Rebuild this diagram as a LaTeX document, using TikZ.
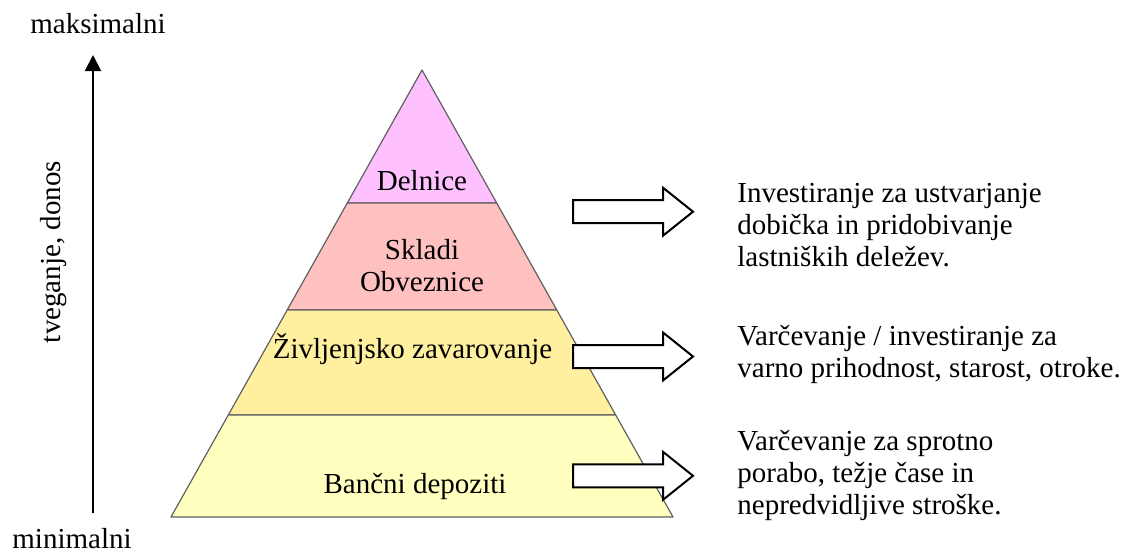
\documentclass[tikz,border=0pt]{standalone}
\usepackage{fontspec}
\setmainfont{Liberation Serif}
\usetikzlibrary{arrows.meta}

\definecolor{delnicefill}{HTML}{FFC0FF}
\definecolor{skladifill}{HTML}{FFC0C0}
\definecolor{zavarfill}{HTML}{FFF0A0}
\definecolor{depofill}{HTML}{FFFFC0}

\begin{document}
\begin{tikzpicture}[x=0.5pt,y=-0.5pt,
    band/.style={draw=gray!75!black, line width=0.6pt, line join=round},
    label/.style={inner sep=0pt, font=\fontsize{14.5}{16}\selectfont},
    blockarrow/.style={draw=black, line width=1pt, fill=white}]
    \useasboundingbox (0,0) rectangle (1126,552);

    % pyramid corners
    \coordinate (T) at (422,70);
    \coordinate (L1) at (347.3,203);
    \coordinate (R1) at (496.7,203);
    \coordinate (L2) at (287.2,310);
    \coordinate (R2) at (556.8,310);
    \coordinate (L3) at (228.3,415);
    \coordinate (R3) at (615.7,415);
    \coordinate (L4) at (171,517);
    \coordinate (R4) at (673,517);

    \draw[band, fill=delnicefill] (T) -- (R1) -- (L1) -- cycle;
    \draw[band, fill=skladifill] (L1) -- (R1) -- (R2) -- (L2) -- cycle;
    \draw[band, fill=zavarfill] (L2) -- (R2) -- (R3) -- (L3) -- cycle;
    \draw[band, fill=depofill] (L3) -- (R3) -- (R4) -- (L4) -- cycle;

    \node[label, anchor=base] (delnice) at (422,190) {Delnice};
    \node[label, align=center] (skladi) at (422,266) {Skladi\\Obveznice};
    \node[label, anchor=base] (zavar) at (412.5,358) {Življenjsko zavarovanje};
    \node[label, anchor=base] (depo) at (415,493) {Bančni depoziti};

    % block arrows
    \foreach \y in {211.7,356.5,475.8}
      \draw[blockarrow] (573,\y-11.5) -- (663,\y-11.5) -- (663,\y-24)
        -- (693,\y) -- (663,\y+24) -- (663,\y+11.5) -- (573,\y+11.5) -- cycle;

    % base = last line
    \node[label, anchor=base west, align=left] (txtdelnice) at (737,266)
      {Investiranje za ustvarjanje\\dobička in pridobivanje\\lastniških deležev.};
    \node[label, anchor=base west, align=left] (txtzavar) at (737,377)
      {Varčevanje / investiranje za\\varno prihodnost, starost, otroke.};
    \node[label, anchor=base west, align=left] (txtdepo) at (737,514)
      {Varčevanje za sprotno\\porabo, težje čase in\\nepredvidljive stroške.};

    % risk axis
    \coordinate (axlo) at (93,513);
    \coordinate (axhi) at (93,55);
    \draw[line width=1pt, -{Triangle[length=8pt,width=8pt]}] (axlo) -- (axhi);
    \node[label, anchor=base west] (maks) at (30,33) {maksimalni};
    \node[label, anchor=base west] (mini) at (12,548) {minimalni};
    \node[label, rotate=90] (tveganje) at (54,252) {tveganje, donos};
\end{tikzpicture}
\end{document}
